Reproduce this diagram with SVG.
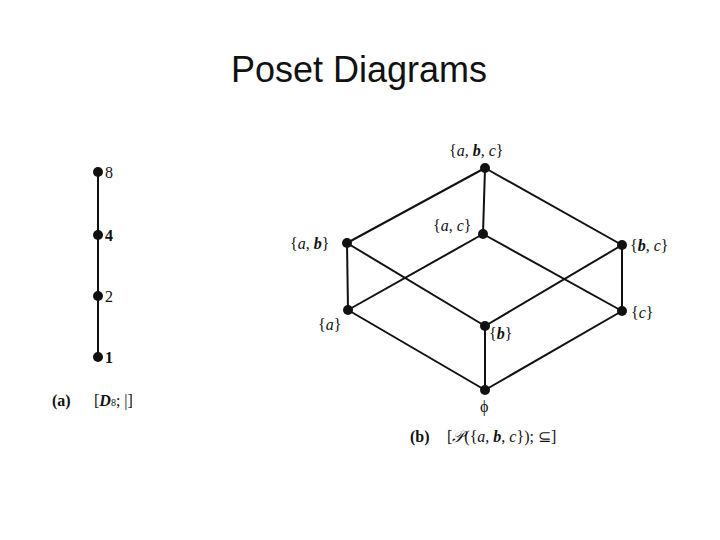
<svg xmlns="http://www.w3.org/2000/svg" width="720" height="540" viewBox="0 0 720 540">
<style>
.e{stroke:#111;stroke-width:2;fill:none}
.d{fill:#111}
.t{font-family:"Liberation Serif",serif;font-size:16px;fill:#111}
.title{font-family:"Liberation Sans",sans-serif;font-size:36px;fill:#111}
</style>
<rect width="720" height="540" fill="#fff"/>
<text class="title" x="359" y="82" text-anchor="middle">Poset Diagrams</text>
<g id="connectors">
<line class="e" x1="98" y1="172" x2="98" y2="357"/>
<line class="e" x1="485" y1="168" x2="347" y2="243"/>
<line class="e" x1="485" y1="168" x2="622" y2="245"/>
<line class="e" x1="485" y1="168" x2="483" y2="234"/>
<line class="e" x1="347" y1="243" x2="348" y2="310"/>
<line class="e" x1="347" y1="243" x2="485" y2="326"/>
<line class="e" x1="483" y1="234" x2="348" y2="310"/>
<line class="e" x1="483" y1="234" x2="622" y2="311"/>
<line class="e" x1="622" y1="245" x2="485" y2="326"/>
<line class="e" x1="622" y1="245" x2="622" y2="311"/>
<line class="e" x1="348" y1="310" x2="485" y2="390"/>
<line class="e" x1="485" y1="326" x2="485" y2="390"/>
<line class="e" x1="622" y1="311" x2="485" y2="390"/>
</g>
<g id="n8"><circle class="d" cx="98" cy="172" r="5"/><text class="t" x="105" y="178">8</text></g>
<g id="n4"><circle class="d" cx="98" cy="235" r="5"/><text class="t" x="105" y="241" font-weight="bold">4</text></g>
<g id="n2"><circle class="d" cx="98" cy="296" r="5"/><text class="t" x="105" y="302">2</text></g>
<g id="n1"><circle class="d" cx="98" cy="357" r="5"/><text class="t" x="105" y="363" font-weight="bold">1</text></g>
<text class="t" x="52" y="406" font-weight="bold">(a)</text>
<text class="t" x="94" y="406">[<tspan font-style="italic" font-weight="bold">D</tspan><tspan font-size="10">8</tspan>; |]</text>
<g id="abc"><circle class="d" cx="485" cy="168" r="5"/><text class="t" x="449" y="156">{<tspan font-style="italic">a</tspan>, <tspan font-style="italic" font-weight="bold">b</tspan>, <tspan font-style="italic">c</tspan>}</text></g>
<g id="ac"><circle class="d" cx="483" cy="234" r="5"/><text class="t" x="433" y="231">{<tspan font-style="italic">a</tspan>, <tspan font-style="italic">c</tspan>}</text></g>
<g id="ab"><circle class="d" cx="347" cy="243" r="5"/><text class="t" x="290" y="249">{<tspan font-style="italic">a</tspan>, <tspan font-style="italic" font-weight="bold">b</tspan>}</text></g>
<g id="bc"><circle class="d" cx="622" cy="245" r="5"/><text class="t" x="630" y="251">{<tspan font-style="italic" font-weight="bold">b</tspan>, <tspan font-style="italic">c</tspan>}</text></g>
<g id="a"><circle class="d" cx="348" cy="310" r="5"/><text class="t" x="318" y="330">{<tspan font-style="italic">a</tspan>}</text></g>
<g id="b"><circle class="d" cx="485" cy="326" r="5"/><text class="t" x="489" y="339">{<tspan font-style="italic" font-weight="bold">b</tspan>}</text></g>
<g id="c"><circle class="d" cx="622" cy="311" r="5"/><text class="t" x="631" y="318">{<tspan font-style="italic">c</tspan>}</text></g>
<g id="empty"><circle class="d" cx="485" cy="390" r="5"/><text class="t" x="480" y="412" font-size="18">ϕ</text></g>
<text class="t" x="410" y="442" font-weight="bold">(b)</text>
<text class="t" x="447" y="442">[<tspan font-style="italic">𝒫</tspan>({<tspan font-style="italic">a</tspan>, <tspan font-style="italic" font-weight="bold">b</tspan>, <tspan font-style="italic">c</tspan>}); ⊆]</text>
</svg>
